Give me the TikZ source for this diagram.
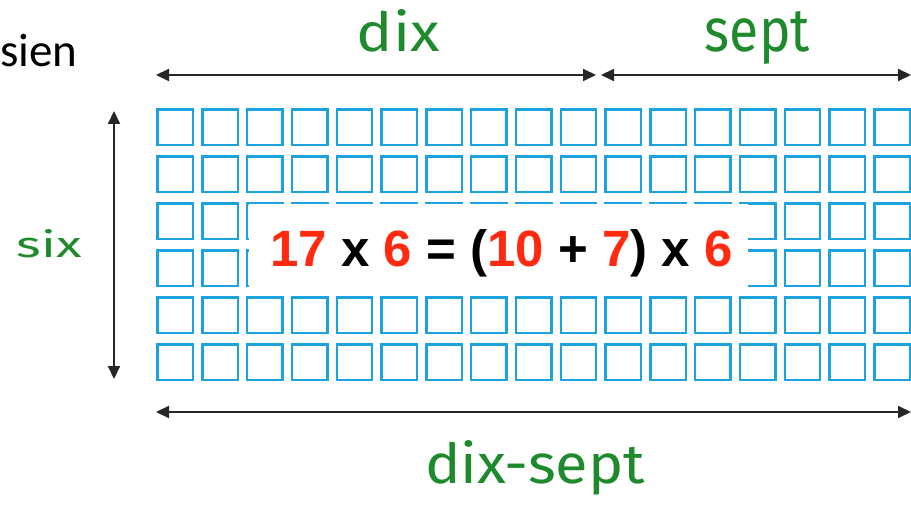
\documentclass[tikz,border=0pt]{standalone}
\usepackage{fontspec}
\usepackage{graphicx}
\setmainfont{Liberation Sans}
\newfontfamily\labelfont{Fira Sans}
\newfontfamily\titlefont{Carlito}
\usetikzlibrary{arrows.meta}

\definecolor{gridblue}{HTML}{1CA3DE}
\definecolor{handgreen}{HTML}{1E8A2C}
\definecolor{eqred}{HTML}{FF2A10}

\newcommand{\hand}[3]{\resizebox{#1pt}{#2pt}{\labelfont #3}}

\tikzset{
  cell/.style={draw=gridblue, line width=2.4pt},
  span/.style={line width=2pt, draw=black!85,
    {Triangle[length=13pt,width=12pt]}-{Triangle[length=13pt,width=12pt]}},
  greenlabel/.style={text=handgreen, inner sep=0pt, anchor=base},
}

\begin{document}
\begin{tikzpicture}[x=1pt, y=-1pt]
  \useasboundingbox (0,0) rectangle (911,505);

  % heading word at the top left
  \node[anchor=base west, inner sep=0pt, font=\titlefont\fontsize{47}{52}\selectfont]
    (heading) at (0,67) {sien};

  % 17 x 6 grid of unit squares
  \foreach \c in {0,...,16} {
    \foreach \r in {0,...,5} {
      \draw[cell] ({157.5+44.8*\c},{109.5+47*\r}) rectangle +(35.5,35.5);
    }
  }

  % white panel carrying the equation
  \fill[white] (249,204) rectangle (748,287);
  \node[anchor=base, inner sep=0pt, font=\bfseries\fontsize{51}{56}\selectfont]
    (eq) at (501.5,267)
    {\textcolor{eqred}{17} x \textcolor{eqred}{6} = (\textcolor{eqred}{10} + \textcolor{eqred}{7}) x \textcolor{eqred}{6}};

  % end points of the dimension arrows
  \coordinate (tl) at (156,75);
  \coordinate (tm1) at (596,75);
  \coordinate (tm2) at (601,75);
  \coordinate (tr) at (911,75);
  \coordinate (vt) at (114,111);
  \coordinate (vb) at (114,379);
  \coordinate (bl) at (156,412);
  \coordinate (br) at (911,412);

  \draw[span] (tl) -- (tm1);
  \draw[span] (tm2) -- (tr);
  \draw[span] (vt) -- (vb);
  \draw[span] (bl) -- (br);

  % hand-lettered dimension labels
  \node[greenlabel] (dix) at (398.5,52) {\hand{83}{42}{dix}};
  \node[greenlabel] (sept) at (757.5,52) {\hand{105}{40}{sept}};
  \node[greenlabel] (six) at (49.5,258) {\hand{65}{28}{six}};
  \node[greenlabel] (dixsept) at (535,483) {\hand{220}{43}{dix-sept}};
\end{tikzpicture}
\end{document}
